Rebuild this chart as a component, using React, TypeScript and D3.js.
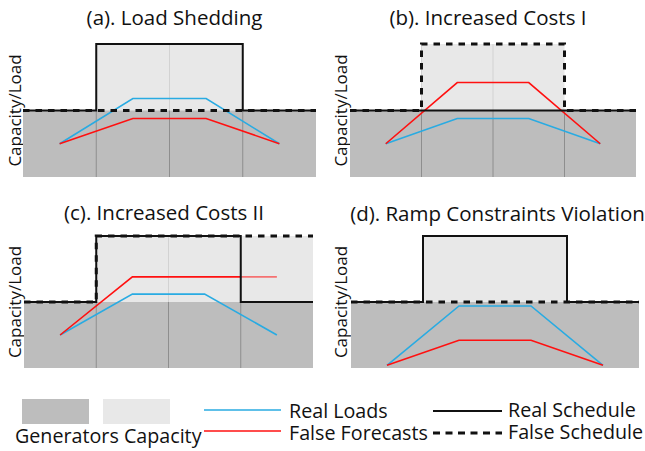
import React from "react";
import * as d3 from "d3";

// ---- data ----
const titles = [
  "(a). Load Shedding",
  "(b). Increased Costs I",
  "(c). Increased Costs II",
  "(d). Ramp Constraints Violation",
];
const yLabel = "Capacity/Load";
const loadTimes = [0.5, 1.5, 2.5, 3.5];
const slotStarts = [0, 1, 2, 3];
const capacity = 50;

const realLoads = [
  [25, 59, 59, 25],
  [25, 44, 44, 25],
  [25, 56, 56, 25],
  [2, 47, 47, 2],
];
const falseForecasts = [
  [25, 44, 44, 25],
  [25, 71, 71, 25],
  [25, 69, 69, 69],
  [2, 21, 21, 2],
];
const realSchedule = [
  [50, 100, 100, 50],
  [50, 50, 50, 50],
  [50, 100, 100, 50],
  [50, 100, 100, 50],
];
const falseSchedule = [
  [50, 50, 50, 50],
  [50, 100, 100, 50],
  [50, 100, 100, 100],
  [50, 50, 50, 50],
];
const showGrid = [true, true, true, false];
const gridTimes = [1, 2, 3];
// slot from which the false-schedule excess is shaded over the forecast (panel c)
const fadeFrom = [null, null, 3, null];

const legendLabels = {
  capacity: "Generators Capacity",
  real: "Real Loads",
  forecast: "False Forecasts",
  realSched: "Real Schedule",
  falseSched: "False Schedule",
};

// ---- layout / style ----
const layout = [
  { x0: 23, x1: 316, top: 44, bottom: 177, titleX: 174.5, titleY: 25, labelX: 21 },
  { x0: 350, x1: 636, top: 44, bottom: 177, titleX: 488, titleY: 24.5, labelX: 347 },
  { x0: 24, x1: 313, top: 236, bottom: 368, titleX: 164, titleY: 220, labelX: 21 },
  { x0: 351, x1: 639, top: 236, bottom: 368, titleX: 497.5, titleY: 221, labelX: 347 },
];
const FONT = "'Open Sans', 'Noto Sans', sans-serif";
const DARK = "#bdbdbd";
const LIGHT = "#e8e8e8";
const BLUE = "#29abe2";
const RED = "#ff1010";
const TITLE_SIZE = 20.5;
const LABEL_SIZE = 17;
const LEGEND_SIZE = 19.7;

function stepPoints(vals: number[]): [number, number][] {
  const pts: [number, number][] = slotStarts.map((s, i) => [s, vals[i]]);
  pts.push([slotStarts.length, vals[vals.length - 1]]);
  return pts;
}

function Panel({ i }: { i: number }) {
  const L = layout[i];
  const x = d3.scaleLinear().domain([0, 4]).range([L.x0, L.x1]);
  const y = d3.scaleLinear().domain([0, 100]).range([L.bottom, L.top]);
  const maxSched = realSchedule[i].map((v, k) => Math.max(v, falseSchedule[i][k]));
  const area = d3
    .area<[number, number]>()
    .x((d) => x(d[0]))
    .y0(y(0))
    .y1((d) => y(d[1]))
    .curve(d3.curveStepAfter);
  const step = d3
    .line<[number, number]>()
    .x((d) => x(d[0]))
    .y((d) => y(d[1]))
    .curve(d3.curveStepAfter);
  const line = d3
    .line<number>()
    .x((_, k) => x(loadTimes[k]))
    .y((d) => y(d));
  const cx = L.labelX;
  const cy = (L.top + L.bottom) / 2;
  const fade = fadeFrom[i];
  return (
    <g>
      <text
        x={L.titleX}
        y={L.titleY}
        textAnchor="middle"
        fontFamily={FONT}
        fontSize={TITLE_SIZE}
        fill="#111"
      >
        {titles[i]}
      </text>
      <text
        transform={`translate(${cx},${cy}) rotate(-90)`}
        textAnchor="middle"
        fontFamily={FONT}
        fontSize={LABEL_SIZE}
        fill="#111"
      >
        {yLabel}
      </text>
      <path d={area(stepPoints(maxSched)) || ""} fill={LIGHT} />
      {showGrid[i] &&
        gridTimes.map((t) => (
          <line
            key={"gl" + t}
            x1={x(t)}
            x2={x(t)}
            y1={y(capacity)}
            y2={y(maxSched[Math.min(t, 3)] > capacity ? 100 : capacity)}
            stroke="#d2d2d2"
            strokeWidth={1}
          />
        ))}
      <rect x={x(0)} y={y(capacity)} width={x(4) - x(0)} height={y(0) - y(capacity)} fill={DARK} />
      {showGrid[i] &&
        gridTimes.map((t) => (
          <line
            key={"gd" + t}
            x1={x(t)}
            x2={x(t)}
            y1={y(0)}
            y2={y(capacity)}
            stroke="#8e8e8e"
            strokeWidth={1}
          />
        ))}
      <path d={line(realLoads[i]) || ""} fill="none" stroke={BLUE} strokeWidth={1.6} />
      <path d={line(falseForecasts[i]) || ""} fill="none" stroke={RED} strokeWidth={1.6} />
      {fade !== null && (
        <rect
          x={x(fade as number)}
          y={y(100)}
          width={x(4) - x(fade as number)}
          height={y(capacity) - y(100)}
          fill={LIGHT}
          opacity={0.45}
        />
      )}
      <path d={step(stepPoints(realSchedule[i])) || ""} fill="none" stroke="#111" strokeWidth={2} />
      <path
        d={step(stepPoints(falseSchedule[i])) || ""}
        fill="none"
        stroke="#111"
        strokeWidth={3}
        strokeDasharray="6.5,6"
      />
    </g>
  );
}

function Legend() {
  return (
    <g fontFamily={FONT} fill="#111">
      <rect x={22} y={399} width={67} height={25} fill={DARK} />
      <rect x={103} y={399} width={67} height={25} fill={LIGHT} />
      <text x={15} y={443} fontSize={LEGEND_SIZE}>
        {legendLabels.capacity}
      </text>
      <line x1={204} x2={281} y1={410} y2={410} stroke={BLUE} strokeWidth={1.6} />
      <line x1={204} x2={281} y1={431} y2={431} stroke={RED} strokeWidth={1.6} />
      <text x={289} y={418} fontSize={LEGEND_SIZE}>
        {legendLabels.real}
      </text>
      <text x={289} y={440} fontSize={LEGEND_SIZE}>
        {legendLabels.forecast}
      </text>
      <line x1={433} x2={502} y1={411} y2={411} stroke="#111" strokeWidth={2} />
      <line x1={433} x2={502} y1={433} y2={433} stroke="#111" strokeWidth={3} strokeDasharray="7,5.5" />
      <text x={508} y={417} fontSize={LEGEND_SIZE}>
        {legendLabels.realSched}
      </text>
      <text x={508} y={439} fontSize={LEGEND_SIZE}>
        {legendLabels.falseSched}
      </text>
    </g>
  );
}

export default function App() {
  return (
    <div style={{ position: "fixed", left: 0, top: 0 }}>
      <svg width={645} height={451} style={{ display: "block", background: "#fff" }}>
        {titles.map((_, i) => (
          <Panel key={i} i={i} />
        ))}
        <Legend />
      </svg>
    </div>
  );
}
